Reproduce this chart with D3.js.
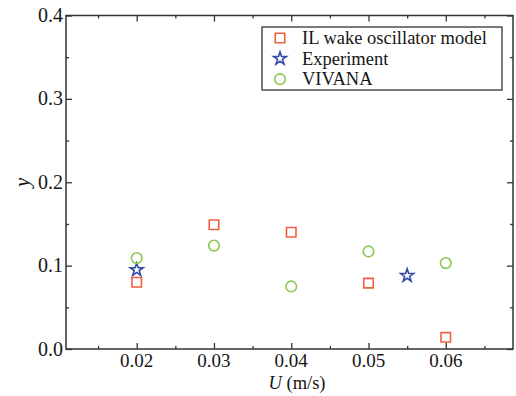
<!DOCTYPE html>
<html>
<head>
<meta charset="utf-8">
<script src="https://cdn.jsdelivr.net/npm/d3@7"></script>
<style>
  html, body { margin: 0; padding: 0; background: #fff; }
  svg { display: block; font-family: "Liberation Serif", "Times New Roman", serif; }
</style>
</head>
<body>
<svg id="chart" width="516" height="396"></svg>
<script>
// Inline amplitude ratio vs. flow speed for three methods
const ilU = [0.02, 0.03, 0.04, 0.05, 0.06];
const ilY = [0.080, 0.149, 0.140, 0.079, 0.014];
const expU = [0.02, 0.055];
const expY = [0.095, 0.088];
const vivU = [0.02, 0.03, 0.04, 0.05, 0.06];
const vivY = [0.109, 0.124, 0.075, 0.117, 0.103];

const xTicks = [0.02, 0.03, 0.04, 0.05, 0.06];
const yTicks = [0.0, 0.1, 0.2, 0.3, 0.4];
const legendLabels = ["IL wake oscillator model", "Experiment", "VIVANA"];

const svg = d3.select("#chart");
const pL = 66, pR = 513, pT = 15.5, pB = 349;

const x = d3.scaleLinear().domain([0.01085, 0.0687]).range([pL, pR]);
const y = d3.scaleLinear().domain([0, 0.4]).range([pB, pT]);

const axisColor = "#333";
const textColor = "#161616";
const xMinor = d3.range(0.015, 0.0687, 0.01);
const yMinor = d3.range(0.05, 0.4, 0.1);

// inward-pointing ticks on all four sides
const g = svg.append("g");
function inTicks(axisGen, transform) {
  const a = g.append("g").attr("transform", transform).call(axisGen);
  a.select(".domain").remove();
  a.selectAll("line").attr("stroke", axisColor).attr("stroke-width", 1.3);
  a.selectAll("text").remove();
}
inTicks(d3.axisBottom(x).tickValues(xTicks).tickSize(-6), `translate(0,${pB})`);
inTicks(d3.axisBottom(x).tickValues(xMinor).tickSize(-3), `translate(0,${pB})`);
inTicks(d3.axisTop(x).tickValues(xTicks).tickSize(-6), `translate(0,${pT})`);
inTicks(d3.axisTop(x).tickValues(xMinor).tickSize(-3), `translate(0,${pT})`);
inTicks(d3.axisLeft(y).tickValues(yTicks).tickSize(-6), `translate(${pL},0)`);
inTicks(d3.axisLeft(y).tickValues(yMinor).tickSize(-3), `translate(${pL},0)`);
inTicks(d3.axisRight(y).tickValues(yTicks).tickSize(-6), `translate(${pR},0)`);
inTicks(d3.axisRight(y).tickValues(yMinor).tickSize(-3), `translate(${pR},0)`);

// frame
g.append("rect")
  .attr("x", pL).attr("y", pT)
  .attr("width", pR - pL).attr("height", pB - pT)
  .attr("fill", "none").attr("stroke", axisColor).attr("stroke-width", 1.5);

// tick labels
g.selectAll("text.xt").data(xTicks).join("text")
  .attr("x", d => x(d)).attr("y", pB + 18)
  .attr("text-anchor", "middle").attr("font-size", 19).attr("fill", textColor)
  .text(d => d3.format(".2f")(d));
g.selectAll("text.yt").data(yTicks).join("text")
  .attr("x", pL - 3).attr("y", d => y(d) + 6.5)
  .attr("text-anchor", "end").attr("font-size", 20).attr("fill", textColor)
  .text(d => d3.format(".1f")(d));

// axis titles
const xt = g.append("text").attr("x", 297).attr("y", 389)
  .attr("text-anchor", "middle").attr("font-size", 18.5).attr("fill", textColor);
xt.append("tspan").attr("font-style", "italic").text("U");
xt.append("tspan").text(" (m/s)");
g.append("text")
  .attr("transform", `translate(29,${y(0.2)}) rotate(-90)`)
  .attr("text-anchor", "middle").attr("font-size", 21).attr("font-style", "italic")
  .attr("fill", textColor).text("y");

// markers
const sqColor = "#f06040", starColor = "#3348a8", circColor = "#8cc850";
const sq = d3.symbol().type(d3.symbolSquare).size(90);
const star = d3.symbol().type(d3.symbolStar).size(52);

function drawSquares(sel, pts) {
  sel.selectAll(null).data(pts).join("path")
    .attr("d", sq).attr("transform", d => `translate(${d[0]},${d[1]})`)
    .attr("fill", "none").attr("stroke", sqColor).attr("stroke-width", 1.6);
}
function drawStars(sel, pts) {
  sel.selectAll(null).data(pts).join("path")
    .attr("d", star).attr("transform", d => `translate(${d[0]},${d[1]})`)
    .attr("fill", "none").attr("stroke", starColor).attr("stroke-width", 1.6);
}
function drawCircles(sel, pts) {
  sel.selectAll(null).data(pts).join("circle")
    .attr("cx", d => d[0]).attr("cy", d => d[1]).attr("r", 5.3)
    .attr("fill", "none").attr("stroke", circColor).attr("stroke-width", 1.6);
}

const marks = svg.append("g");
drawSquares(marks, ilU.map((u, i) => [x(u), y(ilY[i])]));
drawStars(marks, expU.map((u, i) => [x(u), y(expY[i])]));
drawCircles(marks, vivU.map((u, i) => [x(u), y(vivY[i])]));

// legend
const lg = svg.append("g");
lg.append("rect").attr("x", 262).attr("y", 27).attr("width", 240).attr("height", 63)
  .attr("fill", "#fff").attr("stroke", axisColor).attr("stroke-width", 1.3);
const rowGap = 20.6, firstBase = 44;
drawSquares(lg, [0].map(i => [280, firstBase + i * rowGap - 6]));
drawStars(lg, [1].map(i => [280, firstBase + i * rowGap - 6]));
drawCircles(lg, [2].map(i => [280, firstBase + i * rowGap - 6]));
lg.selectAll("text").data(legendLabels).join("text")
  .attr("x", 302).attr("y", (d, i) => firstBase + i * rowGap)
  .attr("font-size", 18.5).attr("fill", textColor).text(d => d);
</script>
</body>
</html>
